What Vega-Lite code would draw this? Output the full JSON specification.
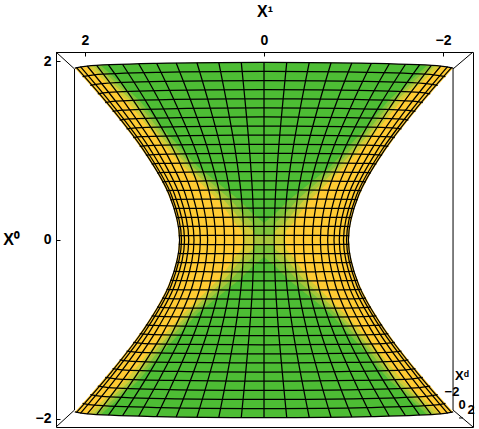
{"$schema":"https://vega.github.io/schema/vega-lite/v6.json","width":417,"height":375,"autosize":{"type":"none"},"padding":{"left":56,"top":52,"right":6,"bottom":2},"background":"white","config":{"view":{"stroke":"#000","strokeWidth":1}},
"datasets":{
"frame":[{"a":2.117,"b":1.916,"a2":2.117,"b2":-1.905},{"a":-2.112,"b":1.916,"a2":-2.112,"b2":-1.905},{"a":2.324,"b":2.106,"a2":2.117,"b2":1.916},{"a":-2.335,"b":2.106,"a2":-2.112,"b2":1.916},{"a":2.324,"b":-2.095,"a2":2.117,"b2":-1.905},{"a":-2.335,"b":-2.095,"a2":-2.112,"b2":-1.905},{"a":-2.179,"b":-1.994,"a2":-2.223,"b2":-1.994}],
"labels":[{"t":"Xᵈ","a":-2.212,"b":-1.524},{"t":"−2","a":-2.1,"b":-1.703},{"t":"0","a":-2.212,"b":-1.854},{"t":"2","a":-2.313,"b":-1.905}],
"fills":[
{"p":"Y","a":2.114,"b":1.926},{"p":"Y","a":1.941,"b":1.733},{"p":"Y","a":1.774,"b":1.539},{"p":"Y","a":1.613,"b":1.344},{"p":"Y","a":1.461,"b":1.148},{"p":"Y","a":1.32,"b":0.95},{"p":"Y","a":1.195,"b":0.752},{"p":"Y","a":1.089,"b":0.552},{"p":"Y","a":1.009,"b":0.352},{"p":"Y","a":0.962,"b":0.151},{"p":"Y","a":0.95,"b":0},{"p":"Y","a":0.962,"b":-0.151},{"p":"Y","a":1.009,"b":-0.352},{"p":"Y","a":1.089,"b":-0.552},{"p":"Y","a":1.195,"b":-0.752},{"p":"Y","a":1.32,"b":-0.95},{"p":"Y","a":1.461,"b":-1.148},{"p":"Y","a":1.613,"b":-1.344},{"p":"Y","a":1.774,"b":-1.539},{"p":"Y","a":1.941,"b":-1.733},{"p":"Y","a":2.114,"b":-1.926},{"p":"Y","a":1.976,"b":-1.949},{"p":"Y","a":1.201,"b":-1.979},{"p":"Y","a":0,"b":-1.99},{"p":"Y","a":-1.201,"b":-1.979},{"p":"Y","a":-1.976,"b":-1.949},{"p":"Y","a":-2.114,"b":-1.926},{"p":"Y","a":-1.941,"b":-1.733},{"p":"Y","a":-1.774,"b":-1.539},{"p":"Y","a":-1.613,"b":-1.344},{"p":"Y","a":-1.461,"b":-1.148},{"p":"Y","a":-1.32,"b":-0.95},{"p":"Y","a":-1.195,"b":-0.752},{"p":"Y","a":-1.089,"b":-0.552},{"p":"Y","a":-1.009,"b":-0.352},{"p":"Y","a":-0.962,"b":-0.151},{"p":"Y","a":-0.95,"b":0},{"p":"Y","a":-0.962,"b":0.151},{"p":"Y","a":-1.009,"b":0.352},{"p":"Y","a":-1.089,"b":0.552},{"p":"Y","a":-1.195,"b":0.752},{"p":"Y","a":-1.32,"b":0.95},{"p":"Y","a":-1.461,"b":1.148},{"p":"Y","a":-1.613,"b":1.344},{"p":"Y","a":-1.774,"b":1.539},{"p":"Y","a":-1.941,"b":1.733},{"p":"Y","a":-2.114,"b":1.926},{"p":"Y","a":-1.976,"b":1.949},{"p":"Y","a":-1.201,"b":1.979},{"p":"Y","a":0,"b":1.99},{"p":"Y","a":1.201,"b":1.979},{"p":"Y","a":1.976,"b":1.949},
{"p":"A","a":1.966,"b":1.949},{"p":"A","a":1.542,"b":1.569},{"p":"A","a":1.24,"b":1.199},{"p":"A","a":0.894,"b":0.818},{"p":"A","a":0.514,"b":0.448},{"p":"A","a":0.402,"b":0.303},{"p":"A","a":0.335,"b":0.202},{"p":"A","a":0.246,"b":0.101},{"p":"A","a":0.235,"b":0},{"p":"A","a":0.246,"b":-0.101},{"p":"A","a":0.335,"b":-0.202},{"p":"A","a":0.402,"b":-0.303},{"p":"A","a":0.514,"b":-0.448},{"p":"A","a":0.894,"b":-0.818},{"p":"A","a":1.24,"b":-1.199},{"p":"A","a":1.542,"b":-1.569},{"p":"A","a":1.966,"b":-1.949},{"p":"A","a":1.201,"b":-1.979},{"p":"A","a":0,"b":-1.99},{"p":"A","a":-1.201,"b":-1.979},{"p":"A","a":-1.966,"b":-1.949},{"p":"A","a":-1.542,"b":-1.569},{"p":"A","a":-1.24,"b":-1.199},{"p":"A","a":-0.894,"b":-0.818},{"p":"A","a":-0.514,"b":-0.448},{"p":"A","a":-0.402,"b":-0.303},{"p":"A","a":-0.335,"b":-0.202},{"p":"A","a":-0.246,"b":-0.101},{"p":"A","a":-0.235,"b":0},{"p":"A","a":-0.246,"b":0.101},{"p":"A","a":-0.335,"b":0.202},{"p":"A","a":-0.402,"b":0.303},{"p":"A","a":-0.514,"b":0.448},{"p":"A","a":-0.894,"b":0.818},{"p":"A","a":-1.24,"b":1.199},{"p":"A","a":-1.542,"b":1.569},{"p":"A","a":-1.966,"b":1.949},{"p":"A","a":-1.201,"b":1.979},{"p":"A","a":0,"b":1.99},{"p":"A","a":1.201,"b":1.979},
{"p":"B","a":1.911,"b":1.952},{"p":"B","a":1.486,"b":1.569},{"p":"B","a":1.184,"b":1.199},{"p":"B","a":0.838,"b":0.818},{"p":"B","a":0.447,"b":0.448},{"p":"B","a":0.324,"b":0.303},{"p":"B","a":0.246,"b":0.202},{"p":"B","a":0.123,"b":0.101},{"p":"B","a":0.112,"b":0},{"p":"B","a":0.123,"b":-0.101},{"p":"B","a":0.246,"b":-0.202},{"p":"B","a":0.324,"b":-0.303},{"p":"B","a":0.447,"b":-0.448},{"p":"B","a":0.838,"b":-0.818},{"p":"B","a":1.184,"b":-1.199},{"p":"B","a":1.486,"b":-1.569},{"p":"B","a":1.911,"b":-1.952},{"p":"B","a":1.201,"b":-1.979},{"p":"B","a":0,"b":-1.99},{"p":"B","a":-1.201,"b":-1.979},{"p":"B","a":-1.911,"b":-1.952},{"p":"B","a":-1.486,"b":-1.569},{"p":"B","a":-1.184,"b":-1.199},{"p":"B","a":-0.838,"b":-0.818},{"p":"B","a":-0.447,"b":-0.448},{"p":"B","a":-0.324,"b":-0.303},{"p":"B","a":-0.246,"b":-0.202},{"p":"B","a":-0.123,"b":-0.101},{"p":"B","a":-0.112,"b":0},{"p":"B","a":-0.123,"b":0.101},{"p":"B","a":-0.246,"b":0.202},{"p":"B","a":-0.324,"b":0.303},{"p":"B","a":-0.447,"b":0.448},{"p":"B","a":-0.838,"b":0.818},{"p":"B","a":-1.184,"b":1.199},{"p":"B","a":-1.486,"b":1.569},{"p":"B","a":-1.911,"b":1.952},{"p":"B","a":-1.201,"b":1.979},{"p":"B","a":0,"b":1.99},{"p":"B","a":1.201,"b":1.979},
{"p":"C","a":1.866,"b":1.953},{"p":"C","a":1.441,"b":1.569},{"p":"C","a":1.14,"b":1.199},{"p":"C","a":0.793,"b":0.818},{"p":"C","a":0.369,"b":0.448},{"p":"C","a":0.246,"b":0.303},{"p":"C","a":0.134,"b":0.202},{"p":"C","a":0.112,"b":0.101},{"p":"C","a":0.112,"b":0},{"p":"C","a":0.112,"b":-0.101},{"p":"C","a":0.134,"b":-0.202},{"p":"C","a":0.246,"b":-0.303},{"p":"C","a":0.369,"b":-0.448},{"p":"C","a":0.793,"b":-0.818},{"p":"C","a":1.14,"b":-1.199},{"p":"C","a":1.441,"b":-1.569},{"p":"C","a":1.866,"b":-1.953},{"p":"C","a":1.201,"b":-1.979},{"p":"C","a":0,"b":-1.99},{"p":"C","a":-1.201,"b":-1.979},{"p":"C","a":-1.866,"b":-1.953},{"p":"C","a":-1.441,"b":-1.569},{"p":"C","a":-1.14,"b":-1.199},{"p":"C","a":-0.793,"b":-0.818},{"p":"C","a":-0.369,"b":-0.448},{"p":"C","a":-0.246,"b":-0.303},{"p":"C","a":-0.134,"b":-0.202},{"p":"C","a":-0.112,"b":-0.101},{"p":"C","a":-0.112,"b":0},{"p":"C","a":-0.112,"b":0.101},{"p":"C","a":-0.134,"b":0.202},{"p":"C","a":-0.246,"b":0.303},{"p":"C","a":-0.369,"b":0.448},{"p":"C","a":-0.793,"b":0.818},{"p":"C","a":-1.14,"b":1.199},{"p":"C","a":-1.441,"b":1.569},{"p":"C","a":-1.866,"b":1.953},{"p":"C","a":-1.201,"b":1.979},{"p":"C","a":0,"b":1.99},{"p":"C","a":1.201,"b":1.979},
{"p":"D1","a":1.821,"b":1.955},{"p":"D1","a":1.397,"b":1.569},{"p":"D1","a":1.084,"b":1.199},{"p":"D1","a":0.737,"b":0.818},{"p":"D1","a":0.279,"b":0.448},{"p":"D1","a":0.134,"b":0.303},{"p":"D1","a":0,"b":0.19},{"p":"D1","a":-0.134,"b":0.303},{"p":"D1","a":-0.279,"b":0.448},{"p":"D1","a":-0.737,"b":0.818},{"p":"D1","a":-1.084,"b":1.199},{"p":"D1","a":-1.397,"b":1.569},{"p":"D1","a":-1.821,"b":1.955},{"p":"D1","a":-1.201,"b":1.979},{"p":"D1","a":0,"b":1.99},{"p":"D1","a":1.201,"b":1.979},
{"p":"D2","a":1.821,"b":-1.955},{"p":"D2","a":1.397,"b":-1.569},{"p":"D2","a":1.084,"b":-1.199},{"p":"D2","a":0.737,"b":-0.818},{"p":"D2","a":0.279,"b":-0.448},{"p":"D2","a":0.134,"b":-0.303},{"p":"D2","a":0,"b":-0.19},{"p":"D2","a":-0.134,"b":-0.303},{"p":"D2","a":-0.279,"b":-0.448},{"p":"D2","a":-0.737,"b":-0.818},{"p":"D2","a":-1.084,"b":-1.199},{"p":"D2","a":-1.397,"b":-1.569},{"p":"D2","a":-1.821,"b":-1.955},{"p":"D2","a":-1.201,"b":-1.979},{"p":"D2","a":0,"b":-1.99},{"p":"D2","a":1.201,"b":-1.979},
{"p":"E","a":0.112,"b":0.05},{"p":"E","a":0.112,"b":-0.05},{"p":"E","a":-0.112,"b":-0.05},{"p":"E","a":-0.112,"b":0.05}],
"mesh":[
{"l":"m0","a":0,"b":1.99},{"l":"m0","a":0,"b":1.531},{"l":"m0","a":0,"b":1.021},{"l":"m0","a":0,"b":0.51},{"l":"m0","a":0,"b":0},{"l":"m0","a":0,"b":-0.51},{"l":"m0","a":0,"b":-1.021},{"l":"m0","a":0,"b":-1.531},{"l":"m0","a":0,"b":-1.99},
{"l":"p1","a":0.254,"b":1.99},{"l":"p1","a":0.209,"b":1.531},{"l":"p1","a":0.163,"b":1.021},{"l":"p1","a":0.128,"b":0.51},{"l":"p1","a":0.114,"b":0},{"l":"p1","a":0.128,"b":-0.51},{"l":"p1","a":0.163,"b":-1.021},{"l":"p1","a":0.209,"b":-1.531},{"l":"p1","a":0.254,"b":-1.99},
{"l":"n1","a":-0.254,"b":1.99},{"l":"n1","a":-0.209,"b":1.531},{"l":"n1","a":-0.163,"b":1.021},{"l":"n1","a":-0.128,"b":0.51},{"l":"n1","a":-0.114,"b":0},{"l":"n1","a":-0.128,"b":-0.51},{"l":"n1","a":-0.163,"b":-1.021},{"l":"n1","a":-0.209,"b":-1.531},{"l":"n1","a":-0.254,"b":-1.99},
{"l":"p2","a":0.505,"b":1.988},{"l":"p2","a":0.415,"b":1.53},{"l":"p2","a":0.324,"b":1.02},{"l":"p2","a":0.255,"b":0.51},{"l":"p2","a":0.227,"b":0},{"l":"p2","a":0.255,"b":-0.51},{"l":"p2","a":0.324,"b":-1.02},{"l":"p2","a":0.415,"b":-1.53},{"l":"p2","a":0.505,"b":-1.988},
{"l":"n2","a":-0.505,"b":1.988},{"l":"n2","a":-0.415,"b":1.53},{"l":"n2","a":-0.324,"b":1.02},{"l":"n2","a":-0.255,"b":0.51},{"l":"n2","a":-0.227,"b":0},{"l":"n2","a":-0.255,"b":-0.51},{"l":"n2","a":-0.324,"b":-1.02},{"l":"n2","a":-0.415,"b":-1.53},{"l":"n2","a":-0.505,"b":-1.988},
{"l":"p3","a":0.749,"b":1.986},{"l":"p3","a":0.615,"b":1.528},{"l":"p3","a":0.48,"b":1.02},{"l":"p3","a":0.378,"b":0.509},{"l":"p3","a":0.337,"b":0},{"l":"p3","a":0.378,"b":-0.509},{"l":"p3","a":0.48,"b":-1.02},{"l":"p3","a":0.615,"b":-1.528},{"l":"p3","a":0.749,"b":-1.986},
{"l":"n3","a":-0.749,"b":1.986},{"l":"n3","a":-0.615,"b":1.528},{"l":"n3","a":-0.48,"b":1.02},{"l":"n3","a":-0.378,"b":0.509},{"l":"n3","a":-0.337,"b":0},{"l":"n3","a":-0.378,"b":-0.509},{"l":"n3","a":-0.48,"b":-1.02},{"l":"n3","a":-0.615,"b":-1.528},{"l":"n3","a":-0.749,"b":-1.986},
{"l":"p4","a":0.981,"b":1.983},{"l":"p4","a":0.805,"b":1.526},{"l":"p4","a":0.629,"b":1.019},{"l":"p4","a":0.495,"b":0.509},{"l":"p4","a":0.441,"b":0},{"l":"p4","a":0.495,"b":-0.509},{"l":"p4","a":0.629,"b":-1.019},{"l":"p4","a":0.805,"b":-1.526},{"l":"p4","a":0.981,"b":-1.983},
{"l":"n4","a":-0.981,"b":1.983},{"l":"n4","a":-0.805,"b":1.526},{"l":"n4","a":-0.629,"b":1.019},{"l":"n4","a":-0.495,"b":0.509},{"l":"n4","a":-0.441,"b":0},{"l":"n4","a":-0.495,"b":-0.509},{"l":"n4","a":-0.629,"b":-1.019},{"l":"n4","a":-0.805,"b":-1.526},{"l":"n4","a":-0.981,"b":-1.983},
{"l":"p5","a":1.2,"b":1.979},{"l":"p5","a":0.985,"b":1.524},{"l":"p5","a":0.769,"b":1.017},{"l":"p5","a":0.606,"b":0.509},{"l":"p5","a":0.54,"b":0},{"l":"p5","a":0.606,"b":-0.509},{"l":"p5","a":0.769,"b":-1.017},{"l":"p5","a":0.985,"b":-1.524},{"l":"p5","a":1.2,"b":-1.979},
{"l":"n5","a":-1.2,"b":1.979},{"l":"n5","a":-0.985,"b":1.524},{"l":"n5","a":-0.769,"b":1.017},{"l":"n5","a":-0.606,"b":0.509},{"l":"n5","a":-0.54,"b":0},{"l":"n5","a":-0.606,"b":-0.509},{"l":"n5","a":-0.769,"b":-1.017},{"l":"n5","a":-0.985,"b":-1.524},{"l":"n5","a":-1.2,"b":-1.979},
{"l":"p6","a":1.4,"b":1.974},{"l":"p6","a":1.149,"b":1.521},{"l":"p6","a":0.898,"b":1.016},{"l":"p6","a":0.707,"b":0.508},{"l":"p6","a":0.63,"b":0},{"l":"p6","a":0.707,"b":-0.508},{"l":"p6","a":0.898,"b":-1.016},{"l":"p6","a":1.149,"b":-1.521},{"l":"p6","a":1.4,"b":-1.974},
{"l":"n6","a":-1.4,"b":1.974},{"l":"n6","a":-1.149,"b":1.521},{"l":"n6","a":-0.898,"b":1.016},{"l":"n6","a":-0.707,"b":0.508},{"l":"n6","a":-0.63,"b":0},{"l":"n6","a":-0.707,"b":-0.508},{"l":"n6","a":-0.898,"b":-1.016},{"l":"n6","a":-1.149,"b":-1.521},{"l":"n6","a":-1.4,"b":-1.974},
{"l":"p7","a":1.581,"b":1.969},{"l":"p7","a":1.297,"b":1.517},{"l":"p7","a":1.013,"b":1.014},{"l":"p7","a":0.798,"b":0.507},{"l":"p7","a":0.711,"b":0},{"l":"p7","a":0.798,"b":-0.507},{"l":"p7","a":1.013,"b":-1.014},{"l":"p7","a":1.297,"b":-1.517},{"l":"p7","a":1.581,"b":-1.969},
{"l":"n7","a":-1.581,"b":1.969},{"l":"n7","a":-1.297,"b":1.517},{"l":"n7","a":-1.013,"b":1.014},{"l":"n7","a":-0.798,"b":0.507},{"l":"n7","a":-0.711,"b":0},{"l":"n7","a":-0.798,"b":-0.507},{"l":"n7","a":-1.013,"b":-1.014},{"l":"n7","a":-1.297,"b":-1.517},{"l":"n7","a":-1.581,"b":-1.969},
{"l":"p8","a":1.738,"b":1.962},{"l":"p8","a":1.426,"b":1.514},{"l":"p8","a":1.114,"b":1.012},{"l":"p8","a":0.877,"b":0.506},{"l":"p8","a":0.782,"b":0},{"l":"p8","a":0.877,"b":-0.506},{"l":"p8","a":1.114,"b":-1.012},{"l":"p8","a":1.426,"b":-1.514},{"l":"p8","a":1.738,"b":-1.962},
{"l":"n8","a":-1.738,"b":1.962},{"l":"n8","a":-1.426,"b":1.514},{"l":"n8","a":-1.114,"b":1.012},{"l":"n8","a":-0.877,"b":0.506},{"l":"n8","a":-0.782,"b":0},{"l":"n8","a":-0.877,"b":-0.506},{"l":"n8","a":-1.114,"b":-1.012},{"l":"n8","a":-1.426,"b":-1.514},{"l":"n8","a":-1.738,"b":-1.962},
{"l":"p9","a":1.87,"b":1.956},{"l":"p9","a":1.535,"b":1.509},{"l":"p9","a":1.199,"b":1.01},{"l":"p9","a":0.944,"b":0.506},{"l":"p9","a":0.841,"b":0},{"l":"p9","a":0.944,"b":-0.506},{"l":"p9","a":1.199,"b":-1.01},{"l":"p9","a":1.535,"b":-1.509},{"l":"p9","a":1.87,"b":-1.956},
{"l":"n9","a":-1.87,"b":1.956},{"l":"n9","a":-1.535,"b":1.509},{"l":"n9","a":-1.199,"b":1.01},{"l":"n9","a":-0.944,"b":0.506},{"l":"n9","a":-0.841,"b":0},{"l":"n9","a":-0.944,"b":-0.506},{"l":"n9","a":-1.199,"b":-1.01},{"l":"n9","a":-1.535,"b":-1.509},{"l":"n9","a":-1.87,"b":-1.956},
{"l":"p10","a":1.975,"b":1.949},{"l":"p10","a":1.62,"b":1.505},{"l":"p10","a":1.266,"b":1.007},{"l":"p10","a":0.997,"b":0.505},{"l":"p10","a":0.888,"b":0},{"l":"p10","a":0.997,"b":-0.505},{"l":"p10","a":1.266,"b":-1.007},{"l":"p10","a":1.62,"b":-1.505},{"l":"p10","a":1.975,"b":-1.949},
{"l":"n10","a":-1.975,"b":1.949},{"l":"n10","a":-1.62,"b":1.505},{"l":"n10","a":-1.266,"b":1.007},{"l":"n10","a":-0.997,"b":0.505},{"l":"n10","a":-0.888,"b":0},{"l":"n10","a":-0.997,"b":-0.505},{"l":"n10","a":-1.266,"b":-1.007},{"l":"n10","a":-1.62,"b":-1.505},{"l":"n10","a":-1.975,"b":-1.949},
{"l":"p11","a":2.051,"b":1.942},{"l":"p11","a":1.683,"b":1.5},{"l":"p11","a":1.315,"b":1.005},{"l":"p11","a":1.035,"b":0.504},{"l":"p11","a":0.922,"b":0},{"l":"p11","a":1.035,"b":-0.504},{"l":"p11","a":1.315,"b":-1.005},{"l":"p11","a":1.683,"b":-1.5},{"l":"p11","a":2.051,"b":-1.942},
{"l":"n11","a":-2.051,"b":1.942},{"l":"n11","a":-1.683,"b":1.5},{"l":"n11","a":-1.315,"b":1.005},{"l":"n11","a":-1.035,"b":0.504},{"l":"n11","a":-0.922,"b":0},{"l":"n11","a":-1.035,"b":-0.504},{"l":"n11","a":-1.315,"b":-1.005},{"l":"n11","a":-1.683,"b":-1.5},{"l":"n11","a":-2.051,"b":-1.942},
{"l":"p12","a":2.097,"b":1.934},{"l":"p12","a":1.72,"b":1.496},{"l":"p12","a":1.344,"b":1.003},{"l":"p12","a":1.058,"b":0.503},{"l":"p12","a":0.943,"b":0},{"l":"p12","a":1.058,"b":-0.503},{"l":"p12","a":1.344,"b":-1.003},{"l":"p12","a":1.72,"b":-1.496},{"l":"p12","a":2.097,"b":-1.934},
{"l":"n12","a":-2.097,"b":1.934},{"l":"n12","a":-1.72,"b":1.496},{"l":"n12","a":-1.344,"b":1.003},{"l":"n12","a":-1.058,"b":0.503},{"l":"n12","a":-0.943,"b":0},{"l":"n12","a":-1.058,"b":-0.503},{"l":"n12","a":-1.344,"b":-1.003},{"l":"n12","a":-1.72,"b":-1.496},{"l":"n12","a":-2.097,"b":-1.934},
{"l":"u1","a":0.952,"b":0.05},{"l":"u1","a":0.89,"b":0.05},{"l":"u1","a":0.541,"b":0.051},{"l":"u1","a":0,"b":0.051},{"l":"u1","a":-0.541,"b":0.051},{"l":"u1","a":-0.89,"b":0.05},{"l":"u1","a":-0.952,"b":0.05},
{"l":"d1","a":0.952,"b":-0.05},{"l":"d1","a":0.89,"b":-0.05},{"l":"d1","a":0.541,"b":-0.051},{"l":"d1","a":0,"b":-0.051},{"l":"d1","a":-0.541,"b":-0.051},{"l":"d1","a":-0.89,"b":-0.05},{"l":"d1","a":-0.952,"b":-0.05},
{"l":"u2","a":0.962,"b":0.151},{"l":"u2","a":0.899,"b":0.152},{"l":"u2","a":0.546,"b":0.153},{"l":"u2","a":0,"b":0.153},{"l":"u2","a":-0.546,"b":0.153},{"l":"u2","a":-0.899,"b":0.152},{"l":"u2","a":-0.962,"b":0.151},
{"l":"d2","a":0.962,"b":-0.151},{"l":"d2","a":0.899,"b":-0.152},{"l":"d2","a":0.546,"b":-0.153},{"l":"d2","a":0,"b":-0.153},{"l":"d2","a":-0.546,"b":-0.153},{"l":"d2","a":-0.899,"b":-0.152},{"l":"d2","a":-0.962,"b":-0.151},
{"l":"u3","a":0.981,"b":0.251},{"l":"u3","a":0.917,"b":0.253},{"l":"u3","a":0.557,"b":0.254},{"l":"u3","a":0,"b":0.255},{"l":"u3","a":-0.557,"b":0.254},{"l":"u3","a":-0.917,"b":0.253},{"l":"u3","a":-0.981,"b":0.251},
{"l":"d3","a":0.981,"b":-0.251},{"l":"d3","a":0.917,"b":-0.253},{"l":"d3","a":0.557,"b":-0.254},{"l":"d3","a":0,"b":-0.255},{"l":"d3","a":-0.557,"b":-0.254},{"l":"d3","a":-0.917,"b":-0.253},{"l":"d3","a":-0.981,"b":-0.251},
{"l":"u4","a":1.009,"b":0.352},{"l":"u4","a":0.944,"b":0.353},{"l":"u4","a":0.573,"b":0.356},{"l":"u4","a":0,"b":0.357},{"l":"u4","a":-0.573,"b":0.356},{"l":"u4","a":-0.944,"b":0.353},{"l":"u4","a":-1.009,"b":0.352},
{"l":"d4","a":1.009,"b":-0.352},{"l":"d4","a":0.944,"b":-0.353},{"l":"d4","a":0.573,"b":-0.356},{"l":"d4","a":0,"b":-0.357},{"l":"d4","a":-0.573,"b":-0.356},{"l":"d4","a":-0.944,"b":-0.353},{"l":"d4","a":-1.009,"b":-0.352},
{"l":"u5","a":1.045,"b":0.452},{"l":"u5","a":0.977,"b":0.454},{"l":"u5","a":0.594,"b":0.458},{"l":"u5","a":0,"b":0.459},{"l":"u5","a":-0.594,"b":0.458},{"l":"u5","a":-0.977,"b":0.454},{"l":"u5","a":-1.045,"b":0.452},
{"l":"d5","a":1.045,"b":-0.452},{"l":"d5","a":0.977,"b":-0.454},{"l":"d5","a":0.594,"b":-0.458},{"l":"d5","a":0,"b":-0.459},{"l":"d5","a":-0.594,"b":-0.458},{"l":"d5","a":-0.977,"b":-0.454},{"l":"d5","a":-1.045,"b":-0.452},
{"l":"u6","a":1.089,"b":0.552},{"l":"u6","a":1.018,"b":0.555},{"l":"u6","a":0.619,"b":0.559},{"l":"u6","a":0,"b":0.561},{"l":"u6","a":-0.619,"b":0.559},{"l":"u6","a":-1.018,"b":0.555},{"l":"u6","a":-1.089,"b":0.552},
{"l":"d6","a":1.089,"b":-0.552},{"l":"d6","a":1.018,"b":-0.555},{"l":"d6","a":0.619,"b":-0.559},{"l":"d6","a":0,"b":-0.561},{"l":"d6","a":-0.619,"b":-0.559},{"l":"d6","a":-1.018,"b":-0.555},{"l":"d6","a":-1.089,"b":-0.552},
{"l":"u7","a":1.139,"b":0.651},{"l":"u7","a":1.065,"b":0.656},{"l":"u7","a":0.647,"b":0.661},{"l":"u7","a":0,"b":0.663},{"l":"u7","a":-0.647,"b":0.661},{"l":"u7","a":-1.065,"b":0.656},{"l":"u7","a":-1.139,"b":0.651},
{"l":"d7","a":1.139,"b":-0.651},{"l":"d7","a":1.065,"b":-0.656},{"l":"d7","a":0.647,"b":-0.661},{"l":"d7","a":0,"b":-0.663},{"l":"d7","a":-0.647,"b":-0.661},{"l":"d7","a":-1.065,"b":-0.656},{"l":"d7","a":-1.139,"b":-0.651},
{"l":"u8","a":1.195,"b":0.752},{"l":"u8","a":1.117,"b":0.757},{"l":"u8","a":0.679,"b":0.764},{"l":"u8","a":0,"b":0.766},{"l":"u8","a":-0.679,"b":0.764},{"l":"u8","a":-1.117,"b":0.757},{"l":"u8","a":-1.195,"b":0.752},
{"l":"d8","a":1.195,"b":-0.752},{"l":"d8","a":1.117,"b":-0.757},{"l":"d8","a":0.679,"b":-0.764},{"l":"d8","a":0,"b":-0.766},{"l":"d8","a":-0.679,"b":-0.764},{"l":"d8","a":-1.117,"b":-0.757},{"l":"d8","a":-1.195,"b":-0.752},
{"l":"u9","a":1.255,"b":0.851},{"l":"u9","a":1.174,"b":0.857},{"l":"u9","a":0.713,"b":0.865},{"l":"u9","a":0,"b":0.868},{"l":"u9","a":-0.713,"b":0.865},{"l":"u9","a":-1.174,"b":0.857},{"l":"u9","a":-1.255,"b":0.851},
{"l":"d9","a":1.255,"b":-0.851},{"l":"d9","a":1.174,"b":-0.857},{"l":"d9","a":0.713,"b":-0.865},{"l":"d9","a":0,"b":-0.868},{"l":"d9","a":-0.713,"b":-0.865},{"l":"d9","a":-1.174,"b":-0.857},{"l":"d9","a":-1.255,"b":-0.851},
{"l":"u10","a":1.32,"b":0.95},{"l":"u10","a":1.234,"b":0.957},{"l":"u10","a":0.75,"b":0.967},{"l":"u10","a":0,"b":0.97},{"l":"u10","a":-0.75,"b":0.967},{"l":"u10","a":-1.234,"b":0.957},{"l":"u10","a":-1.32,"b":0.95},
{"l":"d10","a":1.32,"b":-0.95},{"l":"d10","a":1.234,"b":-0.957},{"l":"d10","a":0.75,"b":-0.967},{"l":"d10","a":0,"b":-0.97},{"l":"d10","a":-0.75,"b":-0.967},{"l":"d10","a":-1.234,"b":-0.957},{"l":"d10","a":-1.32,"b":-0.95},
{"l":"u11","a":1.389,"b":1.049},{"l":"u11","a":1.299,"b":1.057},{"l":"u11","a":0.789,"b":1.068},{"l":"u11","a":0,"b":1.072},{"l":"u11","a":-0.789,"b":1.068},{"l":"u11","a":-1.299,"b":1.057},{"l":"u11","a":-1.389,"b":1.049},
{"l":"d11","a":1.389,"b":-1.049},{"l":"d11","a":1.299,"b":-1.057},{"l":"d11","a":0.789,"b":-1.068},{"l":"d11","a":0,"b":-1.072},{"l":"d11","a":-0.789,"b":-1.068},{"l":"d11","a":-1.299,"b":-1.057},{"l":"d11","a":-1.389,"b":-1.049},
{"l":"u12","a":1.461,"b":1.148},{"l":"u12","a":1.366,"b":1.157},{"l":"u12","a":0.83,"b":1.169},{"l":"u12","a":0,"b":1.174},{"l":"u12","a":-0.83,"b":1.169},{"l":"u12","a":-1.366,"b":1.157},{"l":"u12","a":-1.461,"b":1.148},
{"l":"d12","a":1.461,"b":-1.148},{"l":"d12","a":1.366,"b":-1.157},{"l":"d12","a":0.83,"b":-1.169},{"l":"d12","a":0,"b":-1.174},{"l":"d12","a":-0.83,"b":-1.169},{"l":"d12","a":-1.366,"b":-1.157},{"l":"d12","a":-1.461,"b":-1.148},
{"l":"u13","a":1.536,"b":1.246},{"l":"u13","a":1.436,"b":1.257},{"l":"u13","a":0.872,"b":1.271},{"l":"u13","a":0,"b":1.276},{"l":"u13","a":-0.872,"b":1.271},{"l":"u13","a":-1.436,"b":1.257},{"l":"u13","a":-1.536,"b":1.246},
{"l":"d13","a":1.536,"b":-1.246},{"l":"d13","a":1.436,"b":-1.257},{"l":"d13","a":0.872,"b":-1.271},{"l":"d13","a":0,"b":-1.276},{"l":"d13","a":-0.872,"b":-1.271},{"l":"d13","a":-1.436,"b":-1.257},{"l":"d13","a":-1.536,"b":-1.246},
{"l":"u14","a":1.613,"b":1.344},{"l":"u14","a":1.508,"b":1.356},{"l":"u14","a":0.916,"b":1.372},{"l":"u14","a":0,"b":1.378},{"l":"u14","a":-0.916,"b":1.372},{"l":"u14","a":-1.508,"b":1.356},{"l":"u14","a":-1.613,"b":1.344},
{"l":"d14","a":1.613,"b":-1.344},{"l":"d14","a":1.508,"b":-1.356},{"l":"d14","a":0.916,"b":-1.372},{"l":"d14","a":0,"b":-1.378},{"l":"d14","a":-0.916,"b":-1.372},{"l":"d14","a":-1.508,"b":-1.356},{"l":"d14","a":-1.613,"b":-1.344},
{"l":"u15","a":1.692,"b":1.442},{"l":"u15","a":1.582,"b":1.455},{"l":"u15","a":0.961,"b":1.473},{"l":"u15","a":0,"b":1.48},{"l":"u15","a":-0.961,"b":1.473},{"l":"u15","a":-1.582,"b":1.455},{"l":"u15","a":-1.692,"b":1.442},
{"l":"d15","a":1.692,"b":-1.442},{"l":"d15","a":1.582,"b":-1.455},{"l":"d15","a":0.961,"b":-1.473},{"l":"d15","a":0,"b":-1.48},{"l":"d15","a":-0.961,"b":-1.473},{"l":"d15","a":-1.582,"b":-1.455},{"l":"d15","a":-1.692,"b":-1.442},
{"l":"u16","a":1.774,"b":1.539},{"l":"u16","a":1.658,"b":1.555},{"l":"u16","a":1.008,"b":1.574},{"l":"u16","a":0,"b":1.582},{"l":"u16","a":-1.008,"b":1.574},{"l":"u16","a":-1.658,"b":1.555},{"l":"u16","a":-1.774,"b":1.539},
{"l":"d16","a":1.774,"b":-1.539},{"l":"d16","a":1.658,"b":-1.555},{"l":"d16","a":1.008,"b":-1.574},{"l":"d16","a":0,"b":-1.582},{"l":"d16","a":-1.008,"b":-1.574},{"l":"d16","a":-1.658,"b":-1.555},{"l":"d16","a":-1.774,"b":-1.539},
{"l":"u17","a":1.857,"b":1.637},{"l":"u17","a":1.736,"b":1.653},{"l":"u17","a":1.055,"b":1.676},{"l":"u17","a":0,"b":1.684},{"l":"u17","a":-1.055,"b":1.676},{"l":"u17","a":-1.736,"b":1.653},{"l":"u17","a":-1.857,"b":1.637},
{"l":"d17","a":1.857,"b":-1.637},{"l":"d17","a":1.736,"b":-1.653},{"l":"d17","a":1.055,"b":-1.676},{"l":"d17","a":0,"b":-1.684},{"l":"d17","a":-1.055,"b":-1.676},{"l":"d17","a":-1.736,"b":-1.653},{"l":"d17","a":-1.857,"b":-1.637},
{"l":"u18","a":1.941,"b":1.733},{"l":"u18","a":1.815,"b":1.752},{"l":"u18","a":1.103,"b":1.777},{"l":"u18","a":0,"b":1.786},{"l":"u18","a":-1.103,"b":1.777},{"l":"u18","a":-1.815,"b":1.752},{"l":"u18","a":-1.941,"b":1.733},
{"l":"d18","a":1.941,"b":-1.733},{"l":"d18","a":1.815,"b":-1.752},{"l":"d18","a":1.103,"b":-1.777},{"l":"d18","a":0,"b":-1.786},{"l":"d18","a":-1.103,"b":-1.777},{"l":"d18","a":-1.815,"b":-1.752},{"l":"d18","a":-1.941,"b":-1.733},
{"l":"u19","a":2.027,"b":1.83},{"l":"u19","a":1.895,"b":1.851},{"l":"u19","a":1.151,"b":1.878},{"l":"u19","a":0,"b":1.888},{"l":"u19","a":-1.151,"b":1.878},{"l":"u19","a":-1.895,"b":1.851},{"l":"u19","a":-2.027,"b":1.83},
{"l":"d19","a":2.027,"b":-1.83},{"l":"d19","a":1.895,"b":-1.851},{"l":"d19","a":1.151,"b":-1.878},{"l":"d19","a":0,"b":-1.888},{"l":"d19","a":-1.151,"b":-1.878},{"l":"d19","a":-1.895,"b":-1.851},{"l":"d19","a":-2.027,"b":-1.83},
{"l":"u20","a":2.114,"b":1.926},{"l":"u20","a":1.976,"b":1.949},{"l":"u20","a":1.201,"b":1.979},{"l":"u20","a":0,"b":1.99},{"l":"u20","a":-1.201,"b":1.979},{"l":"u20","a":-1.976,"b":1.949},{"l":"u20","a":-2.114,"b":1.926},
{"l":"d20","a":2.114,"b":-1.926},{"l":"d20","a":1.976,"b":-1.949},{"l":"d20","a":1.201,"b":-1.979},{"l":"d20","a":0,"b":-1.99},{"l":"d20","a":-1.201,"b":-1.979},{"l":"d20","a":-1.976,"b":-1.949},{"l":"d20","a":-2.114,"b":-1.926}
]},
"encoding":{
"x":{"field":"a","type":"quantitative","scale":{"domain":[2.324,-2.335],"nice":false,"zero":false},"axis":{"orient":"top","values":[-2,0,2],"title":"X¹","grid":false,"domain":false,"tickSize":-4,"tickColor":"#000","labelColor":"#000","labelFont":"Liberation Sans","labelFontSize":14,"labelFontWeight":"bold","labelPadding":9,"titleFont":"Liberation Sans","titleFontSize":16,"titleFontWeight":"bold","titleColor":"#000","titlePadding":14}},
"y":{"field":"b","type":"quantitative","scale":{"domain":[-2.095,2.106],"nice":false,"zero":false},"axis":{"orient":"left","values":[-2,0,2],"title":"X⁰","titleAngle":0,"titleAlign":"center","titleBaseline":"middle","grid":false,"domain":false,"tickSize":-4,"tickColor":"#000","labelColor":"#000","labelFont":"Liberation Sans","labelFontSize":14,"labelFontWeight":"bold","labelPadding":9,"titleFont":"Liberation Sans","titleFontSize":16,"titleFontWeight":"bold","titleColor":"#000","titlePadding":24}}},
"layer":[
{"data":{"name":"frame"},"mark":{"type":"rule","stroke":"#000","strokeWidth":1},"encoding":{"x2":{"field":"a2"},"y2":{"field":"b2"}}},
{"data":{"name":"fills"},"transform":[{"window":[{"op":"row_number","as":"o"}]}],"mark":{"type":"line","interpolate":"linear","strokeWidth":0},"encoding":{"order":{"field":"o","type":"quantitative"},"fill":{"field":"p","type":"nominal","legend":null,"scale":{"domain":["Y","A","B","C","D1","D2","E"],"range":["#ffcb33","#d2cc36","#a6c63a","#7cc238","#4dbd34","#4dbd34","#a6c63a"]}}}},
{"data":{"name":"mesh"},"transform":[{"window":[{"op":"row_number","as":"o"}]}],"mark":{"type":"line","interpolate":"catmull-rom","stroke":"#000","strokeWidth":1.25},"encoding":{"order":{"field":"o","type":"quantitative"},"detail":{"field":"l","type":"nominal"}}},
{"data":{"name":"labels"},"mark":{"type":"text","font":"Liberation Sans","fontSize":13,"fontWeight":"bold","fill":"#000","align":"center","baseline":"middle"},"encoding":{"text":{"field":"t","type":"nominal"}}}
]}
